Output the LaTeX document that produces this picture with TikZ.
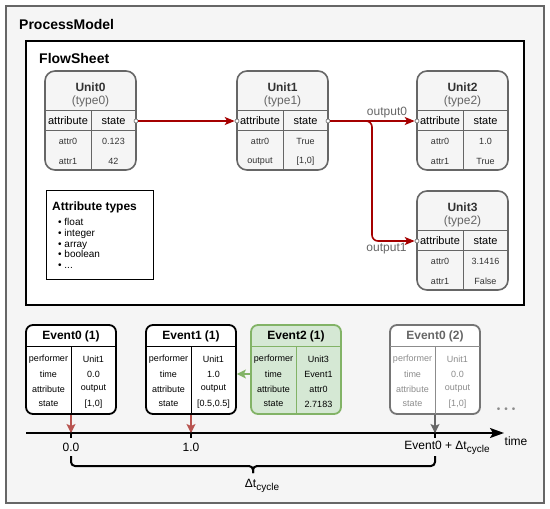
\documentclass[tikz,border=0pt]{standalone}
\usepackage{fontspec}
\setmainfont{Liberation Sans}
\usetikzlibrary{arrows.meta,positioning,calc}
\definecolor{pmfill}{HTML}{F5F5F5}
\definecolor{dgray}{HTML}{333333}
\definecolor{mgray}{HTML}{666666}
\definecolor{lgray}{HTML}{8C8C8C}
\definecolor{flowred}{HTML}{A50000}
\definecolor{evred}{HTML}{B85450}
\definecolor{evgreen}{HTML}{82B366}
\definecolor{evgreenfill}{HTML}{D5E8D4}
\newcommand{\pxfont}[1]{\fontsize{#1}{#1}\selectfont}
\newcommand{\cyc}{\raisebox{-3pt}{\pxfont{10}cycle}}
\tikzset{
  modelbox/.style={draw=mgray, fill=pmfill, line width=1.5pt, inner sep=0pt},
  sheetbox/.style={draw=black, fill=white, line width=2pt, inner sep=0pt},
  frametitle/.style={font=\pxfont{14}\bfseries, inner sep=0pt},
  unitbox/.style={draw=mgray, fill=pmfill, rounded corners=10pt, line width=1.6pt,
                  minimum width=91pt, minimum height=99pt, inner sep=0pt},
  unitname/.style={font=\pxfont{12}\bfseries, text=dgray, inner sep=0pt},
  unittype/.style={font=\pxfont{12}, text=mgray, inner sep=0pt},
  unithead/.style={font=\pxfont{11}, text=black, inner sep=0pt},
  unitcell/.style={font=\pxfont{9}, text=dgray, inner sep=0pt},
  innerline/.style={draw=mgray, line width=1pt},
  port/.style={circle, draw=mgray, fill=white, inner sep=0pt, minimum size=4pt,
               line width=0.6pt},
  flow/.style={-{Stealth[length=10pt, width=8pt, inset=2.5pt]}, draw=flowred,
               line width=1.6pt, rounded corners=6pt},
  flowlabel/.style={font=\pxfont{12}, text=mgray, inner sep=0pt},
  legendbox/.style={draw=black, fill=white, line width=1pt, inner sep=0pt},
  eventbox/.style={draw=black, fill=white, rounded corners=7pt, line width=1.8pt,
                   minimum width=90pt, minimum height=89pt, inner sep=0pt},
  greenbox/.style={eventbox, draw=evgreen, fill=evgreenfill},
  futurebox/.style={eventbox, draw=mgray!90},
  eventname/.style={font=\pxfont{12}\bfseries, inner sep=0pt},
  eventcell/.style={font=\pxfont{9}, inner sep=0pt},
  eventline/.style={line width=1pt},
  hit/.style={-{Stealth[length=9pt, width=9pt, inset=2pt]}, draw=evred, line width=1.5pt},
  back/.style={hit, draw=evgreen},
  timeline/.style={-{Stealth[length=14pt, width=10pt, inset=3pt]}, line width=2pt},
  tickmark/.style={line width=2pt},
  timelabel/.style={font=\pxfont{12}, inner sep=0pt},
  brace/.style={line width=2pt, rounded corners=4pt},
}
\begin{document}
\begin{tikzpicture}[x=1pt, y=-1pt]
\useasboundingbox (0,0) rectangle (550,509);

% ================= process model and flowsheet frames =================
\node[modelbox, minimum width=538pt, minimum height=497pt] (model) at (275,254.5) {};
\node[frametitle, anchor=west] (modeltitle) at (19,24) {ProcessModel};
\node[sheetbox, minimum width=498pt, minimum height=264pt] (sheet) at (275,173) {};
\node[frametitle, anchor=west] (sheettitle) at (39,58) {FlowSheet};

% ================= units =================
\node[unitbox] (unit0) at (90.5,120.5) {};
\node[unitname] (unit0-name) at (90.5,87) {Unit0};
\node[unittype] (unit0-type) at (90.5,101.5) {(type0)};
\draw[innerline] (45,110.5) -- (136,110.5) (45,130.5) -- (136,130.5) (91,110.5) -- (91,170);
\node[unithead] (unit0-ah) at (68,121) {attribute};
\node[unithead] (unit0-sh) at (113.5,121) {state};
\node[unitcell] (unit0-a0) at (68,141.5) {attr0};
\node[unitcell] (unit0-v0) at (113.5,141.5) {0.123};
\node[unitcell] (unit0-a1) at (68,161.5) {attr1};
\node[unitcell] (unit0-v1) at (113.5,161.5) {42};

\node[unitbox] (unit1) at (282.5,120.5) {};
\node[unitname] (unit1-name) at (282.5,87) {Unit1};
\node[unittype] (unit1-type) at (282.5,101.5) {(type1)};
\draw[innerline] (237,110.5) -- (328,110.5) (237,130.5) -- (328,130.5) (283,110.5) -- (283,170);
\node[unithead] (unit1-ah) at (260,121) {attribute};
\node[unithead] (unit1-sh) at (305.5,121) {state};
\node[unitcell] (unit1-a0) at (260,141.5) {attr0};
\node[unitcell] (unit1-v0) at (305.5,141.5) {True};
\node[unitcell] (unit1-a1) at (260,161.5) {output};
\node[unitcell] (unit1-v1) at (305.5,161.5) {[1,0]};

\node[unitbox] (unit2) at (462.5,120.5) {};
\node[unitname] (unit2-name) at (462.5,87) {Unit2};
\node[unittype] (unit2-type) at (462.5,101.5) {(type2)};
\draw[innerline] (417,110.5) -- (508,110.5) (417,130.5) -- (508,130.5) (463,110.5) -- (463,170);
\node[unithead] (unit2-ah) at (440,121) {attribute};
\node[unithead] (unit2-sh) at (485.5,121) {state};
\node[unitcell] (unit2-a0) at (440,141.5) {attr0};
\node[unitcell] (unit2-v0) at (485.5,141.5) {1.0};
\node[unitcell] (unit2-a1) at (440,161.5) {attr1};
\node[unitcell] (unit2-v1) at (485.5,161.5) {True};

\node[unitbox] (unit3) at (462.5,240.5) {};
\node[unitname] (unit3-name) at (462.5,207) {Unit3};
\node[unittype] (unit3-type) at (462.5,221.5) {(type2)};
\draw[innerline] (417,230.5) -- (508,230.5) (417,250.5) -- (508,250.5) (463,230.5) -- (463,290);
\node[unithead] (unit3-ah) at (440,241) {attribute};
\node[unithead] (unit3-sh) at (485.5,241) {state};
\node[unitcell] (unit3-a0) at (440,261.5) {attr0};
\node[unitcell] (unit3-v0) at (485.5,261.5) {3.1416};
\node[unitcell] (unit3-a1) at (440,281.5) {attr1};
\node[unitcell] (unit3-v1) at (485.5,281.5) {False};

% ports and streams
\node[port] (u0out) at (136,121) {};
\node[port] (u1in) at (237,121) {};
\node[port] (u1out) at (328,121) {};
\node[port] (u2in) at (417,121) {};
\node[port] (u3in) at (417,241) {};
\coordinate (split) at (372,121);
\draw[flow] (u0out) -- (u1in);
\draw[flow] (u1out) -- (u2in);
\draw[flow] (u1out) -- (split) |- (u3in);
\node[flowlabel] (out0) at (387,113) {output0};
\node[flowlabel] (out1) at (386.5,249) {output1};

% legend
\node[legendbox, minimum width=107pt, minimum height=89pt] (legend) at (99.5,234.5) {};
\node[anchor=west, font=\pxfont{12}\bfseries, inner sep=0pt] (legendtitle) at (52,207)
  {Attribute types};
\node[anchor=north west, align=left, font=\fontsize{10}{10.8}\selectfont, inner sep=0pt]
  (legendlist) at (58,218)
  {\textbullet\ float\\ \textbullet\ integer\\ \textbullet\ array\\ \textbullet\ boolean\\
   \textbullet\ ...};

% ================= events =================
\node[eventbox] (ev0) at (71,369.5) {};
\node[eventname] (ev0-name) at (71,336.5) {Event0 (1)};
\draw[eventline] (26,346) -- (116,346) (71,346) -- (71,414);
\node[eventcell] (ev0-pl) at (48.5,359) {performer};
\node[eventcell] (ev0-pv) at (93.5,359) {Unit1};
\node[eventcell] (ev0-tl) at (48.5,374) {time};
\node[eventcell] (ev0-tv) at (93.5,374) {0.0};
\node[eventcell] (ev0-al) at (48.5,389) {attribute};
\node[eventcell] (ev0-av) at (93.5,389) {output};
\node[eventcell] (ev0-sl) at (48.5,404) {state};
\node[eventcell] (ev0-sv) at (93.5,404) {[1,0]};

\node[eventbox] (ev1) at (191,369.5) {};
\node[eventname] (ev1-name) at (191,336.5) {Event1 (1)};
\draw[eventline] (146,346) -- (236,346) (191,346) -- (191,414);
\node[eventcell] (ev1-pl) at (168.5,359) {performer};
\node[eventcell] (ev1-pv) at (213.5,359) {Unit1};
\node[eventcell] (ev1-tl) at (168.5,374) {time};
\node[eventcell] (ev1-tv) at (213.5,374) {1.0};
\node[eventcell] (ev1-al) at (168.5,389) {attribute};
\node[eventcell] (ev1-av) at (213.5,389) {output};
\node[eventcell] (ev1-sl) at (168.5,404) {state};
\node[eventcell] (ev1-sv) at (213.5,404) {[0.5,0.5]};

\node[greenbox] (ev2) at (296,369.5) {};
\node[eventname] (ev2-name) at (296,336.5) {Event2 (1)};
\draw[eventline, draw=evgreen] (251,346) -- (341,346) (296,346) -- (296,414);
\node[eventcell] (ev2-pl) at (273.5,359) {performer};
\node[eventcell] (ev2-pv) at (318.5,359) {Unit3};
\node[eventcell] (ev2-tl) at (273.5,374) {time};
\node[eventcell] (ev2-tv) at (318.5,374) {Event1};
\node[eventcell] (ev2-al) at (273.5,389) {attribute};
\node[eventcell] (ev2-av) at (318.5,389) {attr0};
\node[eventcell] (ev2-sl) at (273.5,404) {state};
\node[eventcell] (ev2-sv) at (318.5,404) {2.7183};

\node[futurebox] (ev3) at (435,369.5) {};
\node[eventname, text=mgray] (ev3-name) at (435,336.5) {Event0 (2)};
\draw[eventline, draw=lgray] (390,346) -- (480,346) (435,346) -- (435,414);
\node[eventcell, text=lgray] (ev3-pl) at (412.5,359) {performer};
\node[eventcell, text=lgray] (ev3-pv) at (457.5,359) {Unit1};
\node[eventcell, text=lgray] (ev3-tl) at (412.5,374) {time};
\node[eventcell, text=lgray] (ev3-tv) at (457.5,374) {0.0};
\node[eventcell, text=lgray] (ev3-al) at (412.5,389) {attribute};
\node[eventcell, text=lgray] (ev3-av) at (457.5,389) {output};
\node[eventcell, text=lgray] (ev3-sl) at (412.5,404) {state};
\node[eventcell, text=lgray] (ev3-sv) at (457.5,404) {[1,0]};

\draw[back] (ev2.west |- ev2-tl) -- (ev1.east |- ev2-tl);
\node[font=\pxfont{10}, text=lgray, inner sep=0pt] (more) at (506,410)
  {\textbullet\hspace{4pt}\textbullet\hspace{4pt}\textbullet};

% ================= time axis =================
\coordinate (tstart) at (26,433);
\coordinate (tend) at (504,433);
\coordinate (tick0) at (71,433);
\coordinate (tick1) at (191,433);
\coordinate (tick2) at (435,433);
\draw[timeline] (tstart) -- (tend);
\foreach \t in {tick0,tick1,tick2}
  \draw[tickmark] ($(\t)+(0,-3)$) -- ($(\t)+(0,5)$);
\draw[hit] (ev0.south) -- (tick0);
\draw[hit] (ev1.south) -- (tick1);
\draw[hit, draw=mgray] (ev3.south) -- (tick2);
\node[timelabel] (lbl0) at (71,447) {0.0};
\node[timelabel] (lbl1) at (191,447) {1.0};
\node[timelabel] (lbl2) at (447,448) {Event0 + Δt\cyc};
\node[timelabel] (timelbl) at (516,441) {time};

% cycle brace
\coordinate (bmid) at ($(tick0)!0.5!(tick2)+(0,33)$);
\draw[brace] ($(tick0)+(0,23)$) |- (bmid) -- ++(0,7);
\draw[brace] ($(tick2)+(0,23)$) |- (bmid) -- ++(0,7);
\node[timelabel] (cyclelbl) at (262,486) {Δt\cyc};

\end{tikzpicture}
\end{document}
